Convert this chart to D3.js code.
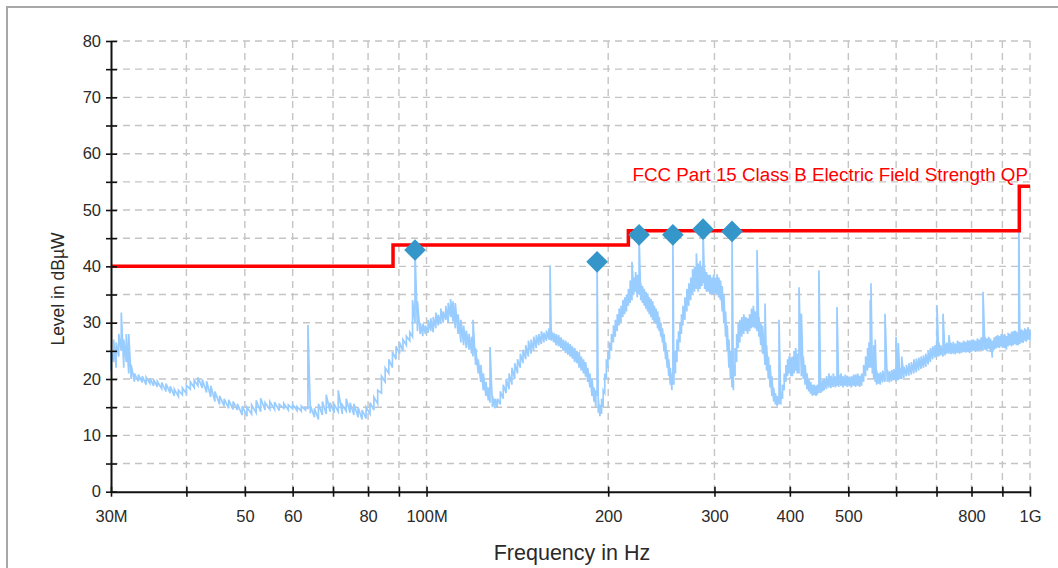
<!DOCTYPE html>
<html>
<head>
<meta charset="utf-8">
<script src="https://cdn.jsdelivr.net/npm/d3@7"></script>
<style>
  body { margin: 0; background: #fff; }
  text { font-family: "Liberation Sans", Arial, sans-serif; }
</style>
</head>
<body>
<div id="emc-chart"></div>
<script>
// measured trace: frequency in MHz, lower and upper edge of the noisy band in dB
var freqMHz = [30.0,30.3,30.6,30.9,31.2,31.5,31.8,32.1,32.4,32.8,33.3,33.8,34.3,34.8,35.3,35.8,36.4,37.0,37.6,38.2,38.8,39.4,40.0,40.6,41.2,41.8,42.5,43.2,43.9,44.6,45.4,46.2,47.0,47.8,48.6,49.5,50.4,51.3,52.2,53.1,54.0,55.0,56.0,57.0,58.0,59.0,60.0,61.0,62.0,63.0,63.6,64.2,65.2,66.2,67.2,68.2,69.2,70.3,71.4,72.5,73.6,74.7,75.8,77.0,78.2,79.4,80.6,81.8,83.0,84.2,85.4,86.6,87.8,89.0,90.2,91.4,92.6,93.8,94.8,95.7,96.6,97.6,98.6,99.6,100.6,101.6,102.6,103.6,104.6,105.6,106.6,107.6,108.6,109.6,110.6,111.6,112.8,114.0,115.2,116.4,117.6,118.8,119.4,120.6,121.8,123.0,124.2,125.4,126.6,127.4,128.6,129.8,131.0,132.5,134.0,135.5,137.0,138.5,140.0,141.5,143.0,144.5,146.0,147.5,149.0,150.5,152.0,153.5,155.0,156.5,158.0,159.5,160.2,161.0,162.5,164.0,165.5,167.0,168.5,170.0,171.5,173.0,174.5,176.0,177.5,179.0,180.5,182.0,183.5,185.0,186.5,188.0,189.5,190.8,191.7,192.6,193.8,195.0,196.2,197.4,198.6,199.8,201.0,202.5,204.0,205.5,207.0,208.5,210.0,211.5,213.0,214.5,216.0,217.5,219.0,220.5,222.0,223.5,225.0,226.5,228.0,229.5,231.0,232.5,234.0,235.5,237.0,238.5,240.0,241.5,243.0,244.5,246.0,247.5,249.0,250.5,252.0,253.5,255.0,256.0,257.0,258.5,260.0,261.5,263.0,264.5,266.0,268.0,270.0,272.0,274.0,276.0,278.0,280.0,282.0,284.0,286.0,287.2,289.0,291.0,293.0,295.0,297.0,299.0,301.0,303.0,305.0,307.0,309.0,311.0,313.0,315.0,317.0,319.0,320.8,322.5,324.5,326.5,328.5,330.5,333.0,335.5,338.0,340.5,343.0,345.5,348.0,350.5,352.9,355.5,358.0,360.5,363.8,366.0,368.5,371.0,373.5,376.0,378.5,381.0,383.8,386.5,389.0,391.5,394.0,396.5,399.0,401.5,404.0,406.5,409.0,411.5,414.2,418.0,421.0,424.0,427.0,430.0,433.0,436.0,439.0,442.0,444.0,446.9,450.0,453.0,456.0,460.0,464.0,468.0,472.0,476.0,478.8,482.0,486.0,490.0,494.0,498.0,502.0,506.0,510.0,514.0,518.0,522.0,526.0,530.0,534.0,538.0,541.0,543.5,545.1,548.0,551.0,554.0,557.0,561.0,565.0,570.0,575.1,580.0,585.0,590.0,595.0,599.8,603.0,605.0,609.0,613.0,618.0,624.0,630.0,636.0,642.0,648.0,654.0,660.0,666.0,672.0,678.0,684.0,690.0,696.0,701.3,706.0,711.0,717.6,723.0,728.0,734.0,740.0,746.0,752.0,758.0,764.0,770.0,776.0,782.0,788.0,794.0,800.0,806.0,812.0,818.0,824.0,830.0,835.9,842.0,848.0,854.0,860.0,866.0,872.0,878.0,884.0,890.0,896.0,902.0,908.0,914.0,920.0,926.0,932.0,938.0,944.0,950.0,956.0,958.0,962.0,968.0,974.0,980.0,986.0,992.0,998.0,1000.0]
var levelLo = [21.5,23,22,24,25,22,23,21,20,19.5,19.6,19.4,19.0,19.2,18.8,18.6,18.3,17.8,17.5,17.0,16.9,17.2,17.4,18.2,18.5,18.8,18.4,17.6,16.8,16.0,15.5,15.2,14.8,14.6,14.5,13.6,13.4,13.8,14.0,14.2,14.5,14.6,14.6,14.4,14.8,14.5,14.7,14.4,14.3,14.5,14.8,13.9,13.2,12.8,13.6,13.8,14.2,14.0,14.2,13.8,14.3,14.0,13.6,13.2,12.8,13.0,13.8,14.5,15.6,17.5,19.5,21.0,22.0,23.5,24.5,25.0,26.0,26.8,27.5,30.0,28.5,28.0,27.6,28.0,28.2,28.5,28.3,29.0,29.5,29.8,30.0,30.5,30.0,31.0,30.2,29.0,28.0,26.5,26.0,25.5,25.2,24.5,24.0,22.5,21.0,19.5,18.0,17.0,16.2,15.8,15.0,14.8,15.0,15.5,16.5,17.5,18.2,19.0,20.0,21.0,22.0,22.8,23.5,24.0,24.5,25.0,25.5,26.0,26.2,26.5,26.8,27.0,27.0,26.8,26.5,26.0,25.8,25.5,25.0,24.6,24.3,24.0,23.6,23.0,22.8,22.0,21.5,21.0,20.4,19.5,18.5,17.0,16.0,15.0,17.0,14.0,13.4,13.8,15.0,17.5,20.0,22.0,23.5,25.0,26.5,27.5,28.5,29.5,30.0,31.0,31.5,32.0,33.0,33.5,34.0,35.0,35.5,34.5,35.0,34.0,33.5,33.0,32.5,32.0,31.5,31.0,30.5,30.0,29.8,29.0,28.5,27.5,26.5,25.0,23.5,22.0,20.5,19.0,18.0,19.0,19.0,21.0,23.0,25.0,26.5,28.0,29.5,30.5,32.0,33.0,34.0,35.0,35.5,36.0,35.5,36.0,36.5,37.0,36.0,35.5,35.5,35.0,35.0,35.0,35.2,35.0,34.5,34.0,32.0,30.0,27.5,25.0,22.0,20.0,18.5,18.0,20.5,23.0,25.5,26.5,27.5,28.0,28.5,28.0,28.5,29.0,29.2,29.0,28.5,27.5,26.0,24.5,22.5,21.5,20.0,18.5,17.0,16.0,15.5,15.2,15.5,15.5,16.5,18.0,19.5,20.5,21.0,20.5,20.5,21.0,21.5,21.0,21.0,20.5,20.0,19.0,18.2,17.8,17.4,17.0,17.2,17.0,17.2,17.5,17.5,17.8,18.0,18.2,18.5,18.4,18.6,18.5,18.8,18.6,18.8,18.5,18.8,18.6,18.7,18.5,18.8,18.6,18.8,18.6,18.8,19.5,20.5,21.5,22.0,22.0,22.0,21.0,20.0,19.5,19.0,19.2,19.0,19.4,19.5,19.5,19.4,19.6,19.8,19.6,19.8,19.8,20.0,20.0,20.2,20.5,20.6,20.8,21.0,21.2,21.5,21.8,22.0,22.2,22.6,23.0,23.5,23.8,24.0,24.0,24.2,24.0,24.2,24.5,24.5,24.4,24.5,24.4,24.6,24.5,24.6,24.8,24.7,24.8,24.6,24.8,25.0,24.8,25.0,25.0,25.2,25.0,25.2,25.0,25.4,24.8,23.8,25.2,25.4,25.6,25.5,25.8,25.6,25.5,25.2,25.8,26.0,25.8,26.0,26.2,26.0,26.0,26.5,26.2,26.5,26.4,26.8,26.6,27.0,27.0,26.8]
var levelHi = [25,27,26.5,28,31.8,27,28,28,22.5,21,20.8,20.5,20.3,20.1,19.9,19.6,19.4,19.2,18.7,18.2,18.0,18.4,18.9,19.5,19.8,20.3,19.9,19.6,18.8,17.8,17.0,16.5,16.3,16.0,15.6,15.2,15.0,15.4,16.2,16.6,15.8,16.0,15.9,15.5,15.7,15.4,15.5,15.1,15.2,15.0,29.6,15.3,14.8,15.6,16.0,17.2,15.8,15.5,18.0,15.4,16.5,15.8,15.6,15.0,14.5,15.0,15.8,16.8,18.0,20.5,22.0,23.5,24.8,25.8,26.5,27.0,27.6,28.3,34.0,42.9,33.8,30.0,29.8,29.5,30.5,30.8,31.0,31.8,31.4,32.5,32.0,33.0,33.5,34.2,33.8,33.5,31.5,30.5,29.5,28.6,28.0,27.5,30.5,25.5,23.5,22.5,21.0,19.5,18.5,25.7,17.0,16.5,16.5,17.8,19.0,20.0,21.0,22.0,22.8,23.5,24.5,25.2,26.0,26.8,27.0,27.5,27.8,28.0,28.5,28.2,28.6,29.0,40.2,28.6,28.2,28.0,27.8,27.4,27.0,26.8,26.5,26.2,25.8,25.5,25.0,24.8,24.0,23.5,23.0,22.0,21.0,20.0,18.5,18.0,40.8,16.5,15.5,16.5,18.0,21.0,23.5,25.0,26.5,28.0,29.5,30.5,31.5,32.5,33.0,34.0,34.5,35.0,36.0,37.5,40.8,38.0,39.0,38.5,45.6,37.0,36.5,36.0,35.5,35.2,34.5,34.2,33.8,33.0,32.5,32.0,31.0,30.0,29.0,28.0,26.5,25.0,23.5,22.0,21.0,45.6,23.0,25.0,27.0,28.5,30.0,31.5,33.0,34.5,36.0,37.0,38.0,39.5,40.0,42.3,40.5,41.0,40.0,46.6,39.5,39.0,38.5,38.5,38.0,38.5,38.0,38.6,38.0,37.5,36.5,35.0,32.0,29.5,27.0,25.0,46.2,22.5,25.5,28.0,30.0,30.5,31.0,31.5,31.0,30.8,31.5,32.5,33.0,32.0,42.9,31.0,30.0,29.5,33.4,26.0,24.0,22.5,20.5,18.5,17.5,17.0,30.5,17.5,19.0,21.0,22.5,23.5,24.0,23.8,24.0,25.0,25.5,24.5,36.3,31.6,24.0,22.5,21.0,20.0,19.5,19.0,19.0,18.8,19.0,39.3,19.3,19.8,20.0,20.5,21.0,20.6,21.0,20.5,32.8,20.8,21.0,20.5,20.8,20.6,20.4,20.5,20.8,20.8,21.0,20.6,21.0,22.5,24.0,25.5,26.5,34.0,37.0,24.5,26.0,27.0,21.5,21.0,21.2,21.5,31.6,21.6,21.4,21.6,21.8,27.5,22.0,26.4,22.0,24.0,22.2,22.5,22.8,23.0,23.5,23.6,23.8,24.0,24.2,24.5,25.0,25.5,25.8,26.0,33.1,26.5,26.0,31.6,26.2,26.5,27.8,26.4,26.6,26.3,26.8,26.6,26.5,26.8,26.6,26.9,26.8,27.0,27.0,26.8,27.2,27.0,27.4,35.5,27.5,27.2,27.5,27.2,26.8,27.4,27.6,27.8,27.6,28.0,27.8,28.0,27.6,28.2,28.0,28.4,28.5,28.6,28.4,28.2,51.0,28.5,28.8,28.6,29.0,28.8,29.2,28.7,28.5]

// peak markers
var markerFreq = [95.7, 191.7, 225, 256, 287.2, 320.8]
var markerLevel = [42.9, 40.8, 45.6, 45.6, 46.6, 46.2]

// FCC limit (step line)
var limitFreq = [30, 88, 216, 960, 1000]
var limitLevel = [40, 43.8, 46.3, 54.2, 54.2]
var limitName = "FCC Part 15 Class B Electric Field Strength QP"

// axis ticks
var xTickValues = [30, 40, 50, 60, 70, 80, 90, 100, 200, 300, 400, 500, 600, 700, 800, 900, 1000]
var xTickLabels = ["30M", "", "50", "60", "", "80", "", "100M", "200", "300", "400", "500", "", "", "800", "", "1G"]
var yTickValues = [0, 5, 10, 15, 20, 25, 30, 35, 40, 45, 50, 55, 60, 65, 70, 75, 80]

var width = 1058, height = 568
var plotLeft = 111, plotRight = 1030, plotTop = 41, plotBottom = 491.7

var svg = d3.select("#emc-chart").append("svg")
    .attr("width", width)
    .attr("height", height)

// outer frame
svg.append("rect")
    .attr("x", 7).attr("y", 7)
    .attr("width", 1100).attr("height", 700)
    .attr("fill", "none")
    .attr("stroke", "#a8a8a8")
    .attr("stroke-width", 2)

var x = d3.scaleLog().domain([30, 1000]).range([plotLeft, plotRight])
var y = d3.scaleLinear().domain([0, 80]).range([plotBottom, plotTop])

// dashed grid
var grid = svg.append("g")
    .attr("stroke", "#c4c4c4")
    .attr("stroke-width", 1.4)
    .attr("stroke-dasharray", "7,5")
grid.selectAll(".vg").data(xTickValues.slice(1)).enter().append("line")
    .attr("x1", function(d) { return x(d) }).attr("x2", function(d) { return x(d) })
    .attr("y1", plotTop).attr("y2", plotBottom)
grid.selectAll(".hg").data(yTickValues.slice(1)).enter().append("line")
    .attr("x1", plotLeft).attr("x2", plotRight)
    .attr("y1", function(d) { return y(d) }).attr("y2", function(d) { return y(d) })

// trace: zigzag between lower and upper edge at every frequency
var tracePts = []
freqMHz.forEach(function(f, i) {
  tracePts.push([f, levelLo[i]])
  tracePts.push([f, levelHi[i]])
})
svg.append("path")
    .datum(tracePts)
    .attr("fill", "none")
    .attr("stroke", "#99ccff")
    .attr("stroke-width", 1.7)
    .attr("d", d3.line()
      .x(function(d) { return x(d[0]) })
      .y(function(d) { return y(d[1]) }))

// limit line
var limitData = limitFreq.map(function(f, i) { return [f, limitLevel[i]] })
svg.append("path")
    .datum(limitData)
    .attr("fill", "none")
    .attr("stroke", "#ff0000")
    .attr("stroke-width", 3.5)
    .attr("d", d3.line()
      .curve(d3.curveStepAfter)
      .x(function(d) { return x(d[0]) })
      .y(function(d) { return y(d[1]) }))

svg.append("text")
    .attr("x", plotRight - 2)
    .attr("y", 181)
    .attr("text-anchor", "end")
    .attr("fill", "#ff0000")
    .style("font-size", "18.8px")
    .text(limitName)

// markers
svg.selectAll(".marker")
  .data(markerFreq)
  .enter()
  .append("path")
    .attr("d", d3.symbol().type(d3.symbolSquare).size(235))
    .attr("transform", function(d, i) {
      return "translate(" + x(d) + "," + y(markerLevel[i]) + ") rotate(45)"
    })
    .attr("fill", "#3597c9")

// axes
var xAxis = svg.append("g")
    .attr("transform", "translate(0," + plotBottom + ")")
    .call(d3.axisBottom(x)
      .tickValues(xTickValues)
      .tickFormat(function(d, i) { return xTickLabels[i] })
      .tickSizeOuter(0))
var yAxis = svg.append("g")
    .attr("transform", "translate(" + plotLeft + ",0)")
    .call(d3.axisLeft(y)
      .tickValues(yTickValues)
      .tickFormat(function(d) { return d % 10 === 0 ? d : "" })
      .tickSizeOuter(0))

;[xAxis, yAxis].forEach(function(ax) {
  ax.select(".domain").attr("stroke", "#111").attr("stroke-width", 2)
  ax.selectAll(".tick line").attr("stroke", "#111").attr("stroke-width", 1.6)
  ax.selectAll(".tick text")
    .attr("fill", "#2a2a2a")
    .style("font-size", "16.5px")
    .style("font-family", "'Liberation Sans', Arial, sans-serif")
})
xAxis.selectAll(".tick line").attr("y1", -5).attr("y2", 5)
xAxis.selectAll(".tick text").attr("y", 19)
yAxis.selectAll(".tick line").attr("x1", -5).attr("x2", 6)
yAxis.selectAll(".tick text").attr("x", -10)

// axis titles
svg.append("text")
    .attr("x", 572)
    .attr("y", 560)
    .attr("text-anchor", "middle")
    .attr("fill", "#2a2a2a")
    .style("font-size", "21.5px")
    .text("Frequency in Hz")

svg.append("text")
    .attr("transform", "translate(64,289) rotate(-90)")
    .attr("text-anchor", "middle")
    .attr("fill", "#2a2a2a")
    .style("font-size", "17.5px")
    .text("Level in dBµW")
</script>
</body>
</html>
